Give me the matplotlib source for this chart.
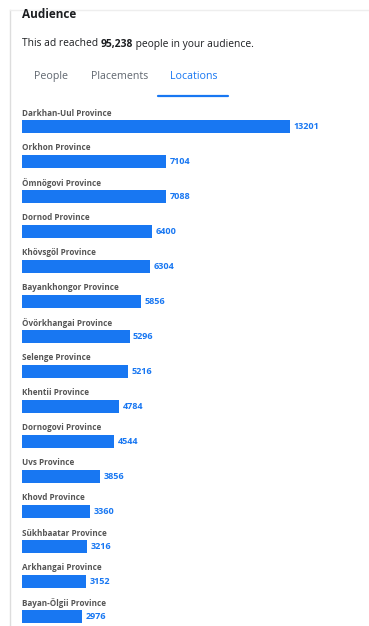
import matplotlib.pyplot as plt
from matplotlib.lines import Line2D

plt.rcParams['font.family'] = ['Open Sans', 'DejaVu Sans']

# Audience breakdown by location
provinces = [
    "Darkhan-Uul Province", "Orkhon Province", "Ömnögovi Province",
    "Dornod Province", "Khövsgöl Province", "Bayankhongor Province",
    "Övörkhangai Province", "Selenge Province", "Khentii Province",
    "Dornogovi Province", "Uvs Province", "Khovd Province",
    "Sükhbaatar Province", "Arkhangai Province", "Bayan-Ölgii Province",
]
reach = [13201, 7104, 7088, 6400, 6304, 5856, 5296, 5216, 4784,
         4544, 3856, 3360, 3216, 3152, 2976]
total_reach = "95,238"
tabs = ["People", "Placements", "Locations"]

W, H = 369, 626
BLUE = "#1877f2"
fig = plt.figure(figsize=(W / 100, H / 100), dpi=100)
fig.patch.set_facecolor("white")

def px(x, y):
    return x / W, 1 - y / H

# card borders
fig.add_artist(Line2D([10 / W, 10 / W], [1 - 10 / H, 0], color="#dddddd", lw=1))
fig.add_artist(Line2D([10 / W, 368 / W], [1 - 10 / H, 1 - 10 / H], color="#eeeeee", lw=1))

# header
fig.text(*px(22, 14), "Audience", fontsize=8.5, fontweight="bold", color="#1c1e21", va="center")
t1 = fig.text(*px(22, 44), "This ad reached ", fontsize=7.4, color="#1c1e21", va="center")
t2 = fig.text(0, 0, total_reach, fontsize=7.4, fontweight="bold", color="#1c1e21", va="center")
t3 = fig.text(0, 0, " people in your audience.", fontsize=7.4, color="#1c1e21", va="center")
fig.canvas.draw()
r = fig.canvas.get_renderer()
x_next = t1.get_window_extent(r).x1
t2.set_position((x_next / W, 1 - 44 / H))
fig.canvas.draw()
t3.set_position((t2.get_window_extent(r).x1 / W, 1 - 44 / H))

# tabs
tab_x = [34, 91, 170]
for name, x in zip(tabs, tab_x):
    fig.text(*px(x, 76.5), name, fontsize=7.7, va="center",
             color=BLUE if name == "Locations" else "#606770")
fig.add_artist(Line2D([158 / W, 228 / W], [1 - 95.5 / H] * 2, color=BLUE, lw=1.6,
                      solid_capstyle="round"))

# bars
top_px = 100
ax = fig.add_axes([22 / W, 0, (W - 22) / W, (H - top_px) / H])
ax.set_xlim(0, 13201 * (W - 22) / 268)
rows = (H - top_px) / 35
ax.set_ylim(rows - 26.5 / 35, -26.5 / 35)
ax.axis("off")

ypos = list(range(len(reach)))
ax.barh(ypos, reach, height=13 / 35, color=BLUE)
for y, name, v in zip(ypos, provinces, reach):
    ax.text(0, y - 13.5 / 35, name, fontsize=5.9, fontweight="bold",
            color="#555555", va="center", ha="left")
    ax.annotate(str(v), (v, y), xytext=(2.5, 0), textcoords="offset points",
                fontsize=6.5, fontweight="bold", color=BLUE, va="center", ha="left")

fig.savefig("out.png", dpi=100)
